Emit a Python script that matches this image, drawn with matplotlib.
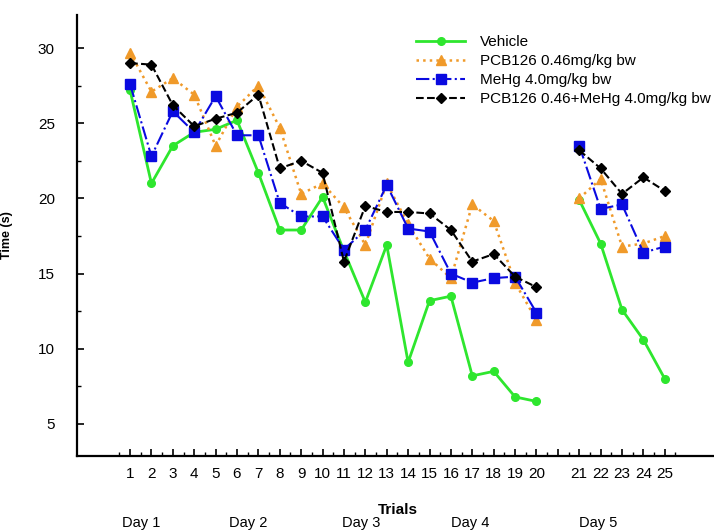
import numpy as np
import matplotlib.pyplot as plt
from matplotlib.ticker import MultipleLocator
import matplotlib.transforms as mtransforms

plt.rcParams['font.family'] = ['Liberation Sans Narrow', 'Liberation Sans', 'DejaVu Sans']

# trials 1-20 (days 1-4), then a gap, trials 21-25 (day 5)
trials = list(range(1, 26))
trial_pos = list(range(1, 21)) + list(range(22, 27))

vehicle = [27.2, 21.0, 23.5, 24.4, 24.6, 25.2, 21.7, 17.9, 17.9, 20.1,
           16.5, 13.1, 16.9, 9.1, 13.2, 13.5, 8.2, 8.5, 6.8, 6.5,
           19.9, 17.0, 12.6, 10.6, 8.0]
pcb126 = [29.7, 27.1, 28.0, 26.9, 23.5, 26.1, 27.5, 24.7, 20.3, 21.0,
          19.4, 16.9, 21.0, 18.3, 16.0, 14.7, 19.6, 18.5, 14.4, 11.9,
          20.0, 21.3, 16.8, 17.0, 17.5]
mehg = [27.6, 22.8, 25.8, 24.4, 26.8, 24.2, 24.2, 19.7, 18.8, 18.8,
        16.6, 17.9, 20.9, 18.0, 17.8, 15.0, 14.4, 14.7, 14.8, 12.4,
        23.5, 19.3, 19.6, 16.4, 16.8]
combo = [29.0, 28.9, 26.2, 24.8, 25.3, 25.7, 26.9, 22.0, 22.5, 21.7,
         15.8, 19.5, 19.1, 19.1, 19.0, 17.9, 15.8, 16.3, 14.8, 14.1,
         23.2, 22.0, 20.3, 21.4, 20.5]

labels = ["Vehicle", "PCB126 0.46mg/kg bw", "MeHg 4.0mg/kg bw",
          "PCB126 0.46+MeHg 4.0mg/kg bw"]
days = ["Day 1", "Day 2", "Day 3", "Day 4", "Day 5"]
day_x = [1.5, 6.5, 11.8, 16.9, 22.9]

styles = [
    dict(color='#2ee62e', ls='-', lw=2.0, marker='o', ms=5.5),
    dict(color='#f09a2a', ls=':', lw=1.8, marker='^', ms=6.5),
    dict(color='#0a0ae0', ls='-.', lw=1.5, marker='s', ms=6.5),
    dict(color='black', ls='--', lw=1.5, marker='D', ms=5),
]

fig = plt.figure(figsize=(7.14, 5.32), dpi=100)
ax = fig.add_axes([77 / 714, 76 / 532, 1 - 77 / 714, (517 - 76) / 532])

for series, lab, st in zip([vehicle, pcb126, mehg, combo], labels, styles):
    x = np.array(trial_pos, dtype=float)
    y = np.array(series, dtype=float)
    # break the line between trial 20 and 21
    x = np.insert(x, 20, np.nan)
    y = np.insert(y, 20, np.nan)
    ax.plot(x, y, color=st['color'], linestyle=st['ls'], linewidth=st['lw'],
            marker=st['marker'], markersize=st['ms'], markeredgecolor=st['color'],
            label=lab)

ax.set_xlim(-1.48, 28.3)
ax.set_ylim(2.87, 32.2)

ax.spines['top'].set_visible(False)
ax.spines['right'].set_visible(False)
ax.spines['left'].set_linewidth(1.6)
ax.spines['bottom'].set_linewidth(1.6)

major_pos = list(range(1, 27))
major_lab = [str(t) for t in trials[:20]] + [''] + [str(t) for t in trials[20:]]
ax.set_xticks(major_pos)
ax.set_xticklabels(major_lab)
ax.set_xticks(np.arange(0.5, 27, 1.0), minor=True)
ax.set_yticks([5, 10, 15, 20, 25, 30])
ax.yaxis.set_minor_locator(MultipleLocator(2.5))

ax.tick_params(axis='both', which='major', direction='in', length=5, width=1.2,
               labelsize=11)
ax.tick_params(axis='both', which='minor', direction='in', length=3, width=1.0)
ax.tick_params(axis='x', which='major', pad=8)
ax.tick_params(axis='y', which='major', pad=16)

ax.set_ylabel("Time (s)", fontsize=9, fontweight='bold', labelpad=18)
fig.text(398 / 714, 1 - 510 / 532, "Trials", fontsize=11, fontweight='bold',
         ha='center', va='center')

trans = mtransforms.blended_transform_factory(ax.transData, fig.transFigure)
for d, dx in zip(days, day_x):
    ax.text(dx, 1 - 523 / 532, d, transform=trans, fontsize=10.5,
            ha='center', va='center')

ax.legend(loc='upper left', bbox_to_anchor=(0.523, 0.968), frameon=False,
          fontsize=11, handlelength=3.2, handletextpad=0.95, labelspacing=0.33,
          borderaxespad=0)

fig.savefig("out.png", dpi=100)
